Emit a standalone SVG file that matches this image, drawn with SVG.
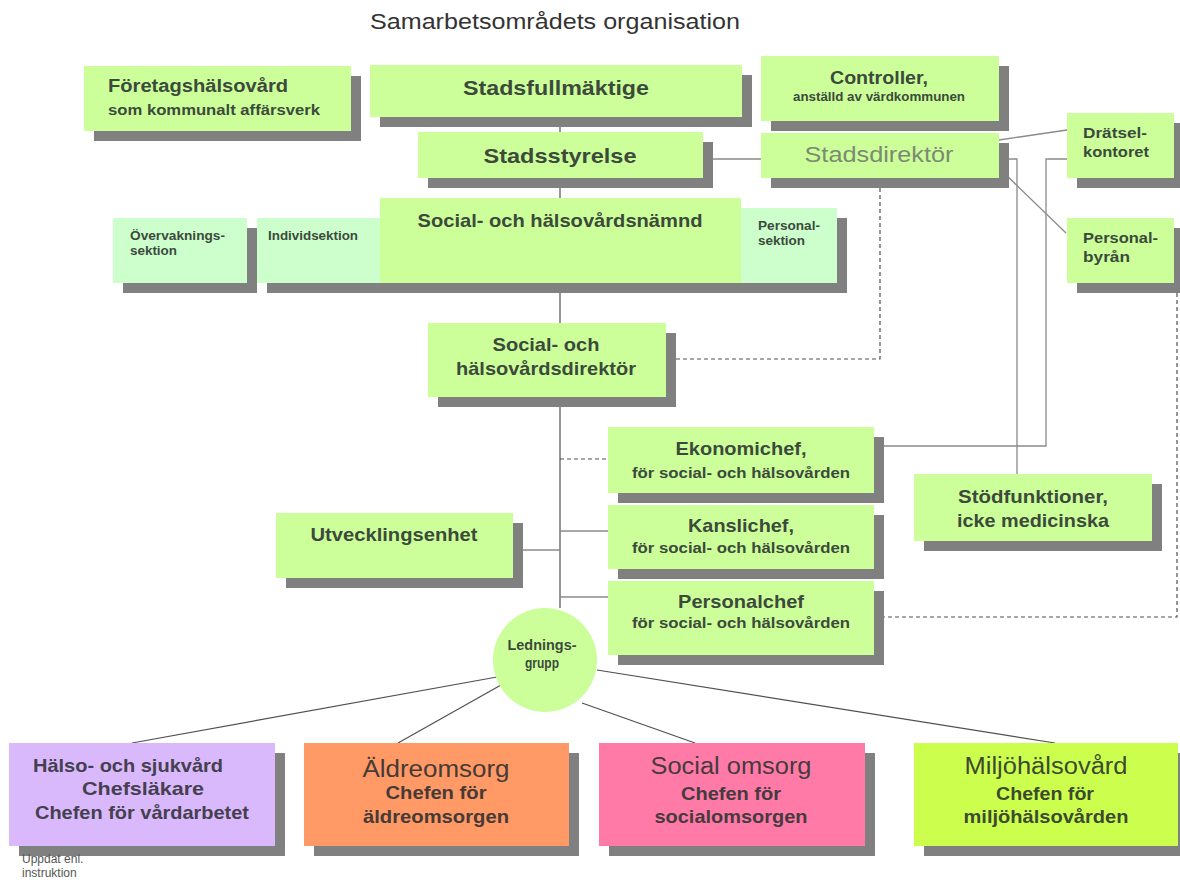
<svg xmlns="http://www.w3.org/2000/svg" width="1180" height="884" viewBox="0 0 1180 884">
<style>
.sh{fill:#808080}
.g{fill:#ccff99}
.lg{fill:#ccffcc}
.t{font-family:"Liberation Sans",Arial,Helvetica,sans-serif;font-weight:bold;fill:#3c4a3c}
.n{font-weight:normal}
.m{text-anchor:middle}
.ln{stroke:#8a8a8a;stroke-width:1.3;fill:none}
.dk{stroke:#505050;stroke-width:1.2;fill:none}
.ds{stroke:#505050;stroke-width:1.2;stroke-dasharray:4 3;fill:none}
</style>
<rect width="1180" height="884" fill="#ffffff"/>
<text class="t n" x="370" y="29" font-size="22" style="fill:#333" textLength="370" lengthAdjust="spacingAndGlyphs">Samarbetsområdets organisation</text>

<g id="connectors">
<path class="dk" d="M560 117V608"/>
<path class="ln" d="M703 159H761"/>
<path class="ln" d="M999 140L1067 130"/>
<path class="ln" d="M1002 171L1066 233"/>
<path class="ln" d="M999 159H1017V474"/>
<path class="ln" d="M1067 159H1046V446H884"/>
<path class="ds" d="M880 188V359H666"/>
<path class="ds" d="M1177 293V617H874"/>
<path class="ds" d="M560 459H608"/>
<path class="ln" d="M560 531H608"/>
<path class="ln" d="M560 597H608"/>
<path class="ln" d="M513 550H560"/>
<path class="dk" d="M497 677L132 743"/>
<path class="dk" d="M501 685L398 743"/>
<path class="dk" d="M582 703L695 743"/>
<path class="dk" d="M597 670L1055 743"/>
</g>

<g id="foretagshalsovard">
<rect class="sh" x="94" y="76" width="267" height="65"/>
<rect class="g" x="84" y="66" width="267" height="65"/>
<text class="t" x="108" y="92" font-size="17.5" textLength="180" lengthAdjust="spacingAndGlyphs">Företagshälsovård</text>
<text class="t" x="108" y="115" font-size="14.5" textLength="212" lengthAdjust="spacingAndGlyphs">som kommunalt affärsverk</text>
</g>

<g id="stadsfullmaktige">
<rect class="sh" x="380" y="75" width="372" height="52"/>
<rect class="g" x="370" y="65" width="372" height="52"/>
<text class="t m" x="556" y="95" font-size="21" textLength="186" lengthAdjust="spacingAndGlyphs">Stadsfullmäktige</text>
</g>

<g id="controller">
<rect class="sh" x="771" y="66" width="238" height="65"/>
<rect class="g" x="761" y="56" width="238" height="65"/>
<text class="t m" x="879" y="84" font-size="19" textLength="98" lengthAdjust="spacingAndGlyphs">Controller,</text>
<text class="t m" x="879" y="101" font-size="12.5" textLength="172" lengthAdjust="spacingAndGlyphs">anställd av värdkommunen</text>
</g>

<g id="stadsstyrelse">
<rect class="sh" x="428" y="142" width="285" height="46"/>
<rect class="g" x="418" y="132" width="285" height="46"/>
<text class="t m" x="560" y="163" font-size="21" textLength="153" lengthAdjust="spacingAndGlyphs">Stadsstyrelse</text>
</g>

<g id="stadsdirektor">
<rect class="sh" x="771" y="143" width="238" height="45"/>
<rect class="g" x="761" y="133" width="238" height="45"/>
<text class="t n m" x="879" y="162" font-size="21.5" style="fill:#7d8a72" textLength="149" lengthAdjust="spacingAndGlyphs">Stadsdirektör</text>
</g>

<g id="dratselkontoret">
<rect class="sh" x="1077" y="123" width="107" height="65"/>
<rect class="g" x="1067" y="113" width="107" height="65"/>
<text class="t" x="1083" y="138" font-size="15" textLength="64" lengthAdjust="spacingAndGlyphs">Drätsel-</text>
<text class="t" x="1083" y="157" font-size="15" textLength="66" lengthAdjust="spacingAndGlyphs">kontoret</text>
</g>

<g id="personalbyran">
<rect class="sh" x="1077" y="228" width="107" height="65"/>
<rect class="g" x="1067" y="218" width="107" height="65"/>
<text class="t" x="1083" y="243" font-size="15" textLength="75" lengthAdjust="spacingAndGlyphs">Personal-</text>
<text class="t" x="1083" y="262" font-size="15" textLength="47" lengthAdjust="spacingAndGlyphs">byrån</text>
</g>

<g id="overvakningssektion">
<rect class="sh" x="123" y="228" width="134" height="65"/>
<rect class="lg" x="113" y="218" width="134" height="65"/>
<text class="t" x="130" y="240" font-size="12.5" textLength="95" lengthAdjust="spacingAndGlyphs">Övervaknings-</text>
<text class="t" x="130" y="255" font-size="12.5" textLength="47" lengthAdjust="spacingAndGlyphs">sektion</text>
</g>

<g id="individsektion">
<rect class="sh" x="267" y="228" width="123" height="65"/>
<rect class="lg" x="257" y="218" width="123" height="65"/>
<text class="t" x="268" y="240" font-size="12.5" textLength="90" lengthAdjust="spacingAndGlyphs">Individsektion</text>
</g>

<g id="namnd">
<rect class="sh" x="390" y="208" width="361" height="85"/>
<rect class="g" x="380" y="198" width="361" height="85"/>
<text class="t m" x="560" y="227" font-size="18.5" textLength="285" lengthAdjust="spacingAndGlyphs">Social- och hälsovårdsnämnd</text>
</g>

<g id="personalsektion">
<rect class="sh" x="751" y="218" width="96" height="75"/>
<rect class="lg" x="741" y="208" width="96" height="75"/>
<text class="t" x="758" y="230" font-size="12.5" textLength="62" lengthAdjust="spacingAndGlyphs">Personal-</text>
<text class="t" x="758" y="245" font-size="12.5" textLength="47" lengthAdjust="spacingAndGlyphs">sektion</text>
</g>

<g id="shdirektor">
<rect class="sh" x="438" y="333" width="238" height="74"/>
<rect class="g" x="428" y="323" width="238" height="74"/>
<text class="t m" x="546" y="351" font-size="18.5" textLength="107" lengthAdjust="spacingAndGlyphs">Social- och</text>
<text class="t m" x="546" y="375" font-size="18.5" textLength="180" lengthAdjust="spacingAndGlyphs">hälsovårdsdirektör</text>
</g>

<g id="ekonomichef">
<rect class="sh" x="618" y="437" width="266" height="66"/>
<rect class="g" x="608" y="427" width="266" height="66"/>
<text class="t m" x="741" y="455" font-size="18.5" textLength="131" lengthAdjust="spacingAndGlyphs">Ekonomichef,</text>
<text class="t m" x="741" y="478" font-size="15" textLength="218" lengthAdjust="spacingAndGlyphs">för social- och hälsovården</text>
</g>

<g id="kanslichef">
<rect class="sh" x="618" y="515" width="266" height="64"/>
<rect class="g" x="608" y="505" width="266" height="64"/>
<text class="t m" x="741" y="532" font-size="18.5" textLength="106" lengthAdjust="spacingAndGlyphs">Kanslichef,</text>
<text class="t m" x="741" y="553" font-size="15" textLength="218" lengthAdjust="spacingAndGlyphs">för social- och hälsovården</text>
</g>

<g id="personalchef">
<rect class="sh" x="618" y="591" width="266" height="74"/>
<rect class="g" x="608" y="581" width="266" height="74"/>
<text class="t m" x="741" y="608" font-size="18.5" textLength="126" lengthAdjust="spacingAndGlyphs">Personalchef</text>
<text class="t m" x="741" y="628" font-size="15" textLength="218" lengthAdjust="spacingAndGlyphs">för social- och hälsovården</text>
</g>

<g id="utvecklingsenhet">
<rect class="sh" x="286" y="523" width="237" height="65"/>
<rect class="g" x="276" y="513" width="237" height="65"/>
<text class="t m" x="394" y="541" font-size="18.5" textLength="167" lengthAdjust="spacingAndGlyphs">Utvecklingsenhet</text>
</g>

<g id="stodfunktioner">
<rect class="sh" x="924" y="484" width="238" height="67"/>
<rect class="g" x="914" y="474" width="238" height="67"/>
<text class="t m" x="1033" y="503" font-size="18.5" textLength="150" lengthAdjust="spacingAndGlyphs">Stödfunktioner,</text>
<text class="t m" x="1033" y="527" font-size="18.5" textLength="152" lengthAdjust="spacingAndGlyphs">icke medicinska</text>
</g>

<g id="ledningsgrupp">
<circle class="g" cx="545" cy="660" r="52"/>
<text class="t m" x="542" y="650" font-size="15" textLength="69" lengthAdjust="spacingAndGlyphs">Lednings-</text>
<text class="t m" x="542" y="668" font-size="15" textLength="34" lengthAdjust="spacingAndGlyphs">grupp</text>
</g>

<g id="halso">
<rect class="sh" x="19" y="753" width="266" height="103"/>
<rect x="9" y="743" width="266" height="103" fill="#d9b9fb"/>
<text class="t m" x="128" y="772" font-size="19" style="fill:#45404f" textLength="190" lengthAdjust="spacingAndGlyphs">Hälso- och sjukvård</text>
<text class="t m" x="143" y="795" font-size="19" style="fill:#45404f" textLength="122" lengthAdjust="spacingAndGlyphs">Chefsläkare</text>
<text class="t m" x="142" y="819" font-size="19" style="fill:#45404f" textLength="214" lengthAdjust="spacingAndGlyphs">Chefen för vårdarbetet</text>
</g>

<g id="aldreomsorg">
<rect class="sh" x="314" y="753" width="265" height="103"/>
<rect x="304" y="743" width="265" height="103" fill="#ff9966"/>
<text class="t n m" x="436" y="777" font-size="23.5" style="fill:#463a36" textLength="147" lengthAdjust="spacingAndGlyphs">Äldreomsorg</text>
<text class="t m" x="436" y="799" font-size="18.5" style="fill:#463a36" textLength="101" lengthAdjust="spacingAndGlyphs">Chefen för</text>
<text class="t m" x="436" y="823" font-size="18.5" style="fill:#463a36" textLength="146" lengthAdjust="spacingAndGlyphs">äldreomsorgen</text>
</g>

<g id="socialomsorg">
<rect class="sh" x="609" y="753" width="266" height="103"/>
<rect x="599" y="743" width="266" height="103" fill="#ff7aa6"/>
<text class="t n m" x="731" y="774" font-size="23.5" style="fill:#463a40" textLength="161" lengthAdjust="spacingAndGlyphs">Social omsorg</text>
<text class="t m" x="731" y="800" font-size="18.5" style="fill:#463a40" textLength="100" lengthAdjust="spacingAndGlyphs">Chefen för</text>
<text class="t m" x="731" y="823" font-size="18.5" style="fill:#463a40" textLength="153" lengthAdjust="spacingAndGlyphs">socialomsorgen</text>
</g>

<g id="miljohalsovard">
<rect class="sh" x="924" y="753" width="264" height="103"/>
<rect x="914" y="743" width="264" height="103" fill="#ccff4d"/>
<text class="t n m" x="1046" y="774" font-size="23.5" style="fill:#3c4a30" textLength="163" lengthAdjust="spacingAndGlyphs">Miljöhälsovård</text>
<text class="t m" x="1045" y="800" font-size="18.5" style="fill:#3c4a30" textLength="98" lengthAdjust="spacingAndGlyphs">Chefen för</text>
<text class="t m" x="1046" y="823" font-size="18.5" style="fill:#3c4a30" textLength="165" lengthAdjust="spacingAndGlyphs">miljöhälsovården</text>
</g>

<text class="t n" x="22" y="863" font-size="12" style="fill:#555">Uppdat enl.</text>
<text class="t n" x="22" y="877" font-size="12" style="fill:#555">instruktion</text>
</svg>
